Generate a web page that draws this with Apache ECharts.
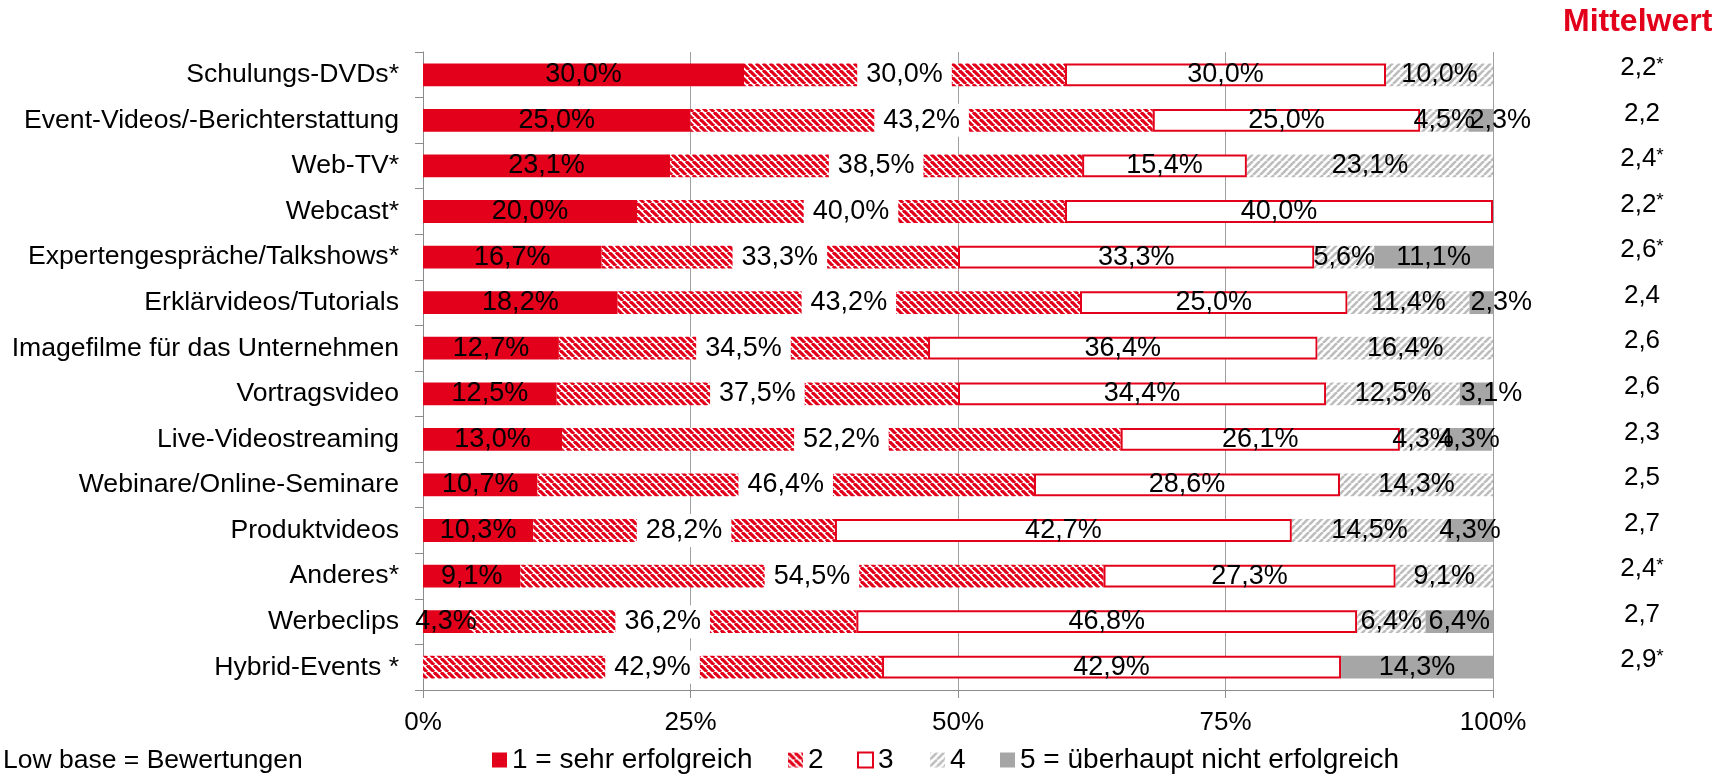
<!DOCTYPE html>
<html>
<head>
<meta charset="utf-8">
<script src="https://cdn.jsdelivr.net/npm/echarts@6/dist/echarts.min.js"></script>
<style>
  html, body { margin: 0; padding: 0; background: #fff; }
  #chart { width: 1731px; height: 775px; }
</style>
</head>
<body>
<div id="chart"></div>
<script>
// data
const categories = [
  "Schulungs-DVDs*",
  "Event-Videos/-Berichterstattung",
  "Web-TV*",
  "Webcast*",
  "Expertengespräche/Talkshows*",
  "Erklärvideos/Tutorials",
  "Imagefilme für das Unternehmen",
  "Vortragsvideo",
  "Live-Videostreaming",
  "Webinare/Online-Seminare",
  "Produktvideos",
  "Anderes*",
  "Werbeclips",
  "Hybrid-Events *"
];
const rating1 = [30.0, 25.0, 23.1, 20.0, 16.7, 18.2, 12.7, 12.5, 13.0, 10.7, 10.3, 9.1, 4.3, 0];
const rating2 = [30.0, 43.2, 38.5, 40.0, 33.3, 43.2, 34.5, 37.5, 52.2, 46.4, 28.2, 54.5, 36.2, 42.9];
const rating3 = [30.0, 25.0, 15.4, 40.0, 33.3, 25.0, 36.4, 34.4, 26.1, 28.6, 42.7, 27.3, 46.8, 42.9];
const rating4 = [10.0, 4.5, 23.1, 0, 5.6, 11.4, 16.4, 12.5, 4.3, 14.3, 14.5, 9.1, 6.4, 0];
const rating5 = [0, 2.3, 0, 0, 11.1, 2.3, 0, 3.1, 4.3, 0, 4.3, 0, 6.4, 14.3];
const means = ["2,2*", "2,2", "2,4*", "2,2*", "2,6*", "2,4", "2,6", "2,6", "2,3", "2,5", "2,7", "2,4*", "2,7", "2,9*"];
const seriesNames = ["1 = sehr erfolgreich", "2", "3", "4", "5 = überhaupt nicht erfolgreich"];
const xTicks = [0, 25, 50, 75, 100];

const RED = "#e2001a";
const GREY = "#a6a6a6";
const FONT = "Liberation Sans, Arial, sans-serif";

// hatch tiles
const makeHatch = (fg, dir, size, lw) => {
  const c = document.createElement("canvas");
  c.width = size;
  c.height = size;
  const ctx = c.getContext("2d");
  ctx.fillStyle = "#fff";
  ctx.fillRect(0, 0, size, size);
  ctx.strokeStyle = fg;
  ctx.lineWidth = lw;
  for (let k = -1; k <= 1; k++) {
    ctx.beginPath();
    if (dir === "back") {
      ctx.moveTo(k * size, 0);
      ctx.lineTo(k * size + size, size);
    } else {
      ctx.moveTo(k * size, size);
      ctx.lineTo(k * size + size, 0);
    }
    ctx.stroke();
  }
  return { image: c, repeat: "repeat" };
};

const redHatch = makeHatch(RED, "back", 7, 3.2);
const greyHatch = makeHatch("#bdbdbd", "fwd", 7, 2.6);

const fmt = (p) => (p.value ? p.value.toFixed(1).replace(".", ",") + "%" : "");

const labelBase = {
  show: true,
  position: "inside",
  color: "#000",
  fontFamily: FONT,
  fontSize: 27,
  formatter: fmt
};

// very thin end segments get their label pushed to the right, like the original
const lastSeg = rating5.map((v) =>
  v > 0 && v < 4 ? { value: v, label: { position: "insideLeft", distance: 1 } } : v
);

const chart = echarts.init(document.getElementById("chart"));

const legendLefts = [492, 788, 857, 930, 1000];

const option = {
  animation: false,
  textStyle: { fontFamily: FONT },
  title: [
    {
      text: "Mittelwert",
      left: 1563,
      top: 6,
      padding: 0,
      textStyle: { color: RED, fontSize: 32, fontWeight: "bold", fontFamily: FONT }
    },
    {
      text: "Low base = Bewertungen",
      left: 3,
      top: 747,
      padding: 0,
      textStyle: { color: "#000", fontSize: 26.5, fontWeight: "normal", fontFamily: FONT }
    }
  ],
  legend: seriesNames.map((n, i) => ({
    data: [n],
    left: legendLefts[i],
    top: 746,
    padding: 0,
    itemWidth: 15,
    itemHeight: 15,
    itemGap: 0,
    icon: "rect",
    textStyle: { color: "#000", fontSize: 28, fontFamily: FONT }
  })),
  grid: { left: 423, right: 238, top: 52, bottom: 85, containLabel: false },
  xAxis: {
    type: "value",
    min: 0,
    max: 100,
    interval: 25,
    axisLine: { show: true, lineStyle: { color: "#8c8c8c" } },
    axisTick: { show: true, length: 8, lineStyle: { color: "#8c8c8c" } },
    splitLine: { show: true, lineStyle: { color: "#a0a0a0" } },
    axisLabel: {
      margin: 20,
      color: "#000",
      fontSize: 26,
      fontFamily: FONT,
      formatter: (v) => (xTicks.includes(v) ? v + "%" : "")
    }
  },
  yAxis: [
    {
      type: "category",
      data: categories,
      inverse: true,
      axisLine: { show: true, lineStyle: { color: "#8c8c8c" } },
      axisTick: { show: true, length: 8, lineStyle: { color: "#8c8c8c" } },
      axisLabel: { margin: 24, color: "#000", fontSize: 26.6, fontFamily: FONT }
    },
    {
      type: "category",
      data: means,
      inverse: true,
      position: "right",
      axisLine: { show: false },
      axisTick: { show: false },
      axisLabel: {
        margin: 149,
        align: "center",
        padding: [0, 0, 14, 0],
        color: "#000",
        fontSize: 26,
        fontFamily: FONT,
        formatter: (v) => (v.endsWith("*") ? "{n|" + v.slice(0, -1) + "}{s|*}" : "{n|" + v + "}"),
        rich: {
          n: { fontSize: 26, fontFamily: FONT, color: "#000" },
          s: { fontSize: 19, fontFamily: FONT, color: "#000", verticalAlign: "top" }
        }
      }
    }
  ],
  series: [
    {
      name: seriesNames[0],
      type: "bar",
      stack: "total",
      barWidth: "50%",
      data: rating1,
      itemStyle: { color: RED },
      label: labelBase
    },
    {
      name: seriesNames[1],
      type: "bar",
      stack: "total",
      data: rating2,
      itemStyle: { color: redHatch },
      label: { ...labelBase, backgroundColor: "#fff", padding: [3, 9] }
    },
    {
      name: seriesNames[2],
      type: "bar",
      stack: "total",
      data: rating3,
      itemStyle: { color: "#fff", borderColor: RED, borderWidth: 2 },
      label: labelBase
    },
    {
      name: seriesNames[3],
      type: "bar",
      stack: "total",
      data: rating4,
      itemStyle: { color: greyHatch },
      label: labelBase
    },
    {
      name: seriesNames[4],
      type: "bar",
      stack: "total",
      data: lastSeg,
      itemStyle: { color: GREY },
      label: labelBase
    }
  ]
};

chart.setOption(option);
</script>
</body>
</html>
